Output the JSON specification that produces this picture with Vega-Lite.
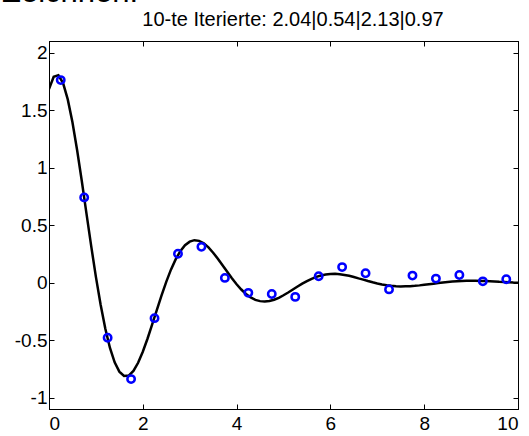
{
  "$schema": "https://vega.github.io/schema/vega-lite/v6.json",
  "width": 469,
  "height": 368,
  "autosize": {"type": "none"},
  "padding": {"left": 49, "top": 41, "right": 11, "bottom": 27},
  "background": "white",
  "config": {
    "font": "Liberation Sans",
    "view": {"stroke": "black", "strokeWidth": 1},
    "axis": {
      "grid": false,
      "domain": true,
      "domainColor": "black",
      "domainWidth": 1,
      "ticks": true,
      "tickColor": "black",
      "tickWidth": 1,
      "tickSize": -5,
      "labelFont": "Liberation Sans",
      "labelFontSize": 19,
      "labelColor": "black",
      "titleFont": "Liberation Sans",
      "titleColor": "black",
      "titleFontWeight": "normal"
    }
  },
  "title": {
    "text": "Zeichnen:",
    "anchor": "start",
    "frame": "group",
    "dx": -47,
    "dy": 24,
    "fontSize": 31,
    "fontWeight": "normal",
    "font": "Liberation Sans",
    "color": "black",
    "baseline": "alphabetic",
    "offset": 0
  },
  "datasets": {
    "curve": [
      {"x": 0.0, "y": 1.683}, {"x": 0.1, "y": 1.789}, {"x": 0.2, "y": 1.803}, {"x": 0.3, "y": 1.734}, {"x": 0.4, "y": 1.592},
      {"x": 0.5, "y": 1.393}, {"x": 0.6, "y": 1.150}, {"x": 0.7, "y": 0.880}, {"x": 0.8, "y": 0.597}, {"x": 0.9, "y": 0.316},
      {"x": 1.0, "y": 0.049}, {"x": 1.1, "y": -0.192}, {"x": 1.2, "y": -0.400}, {"x": 1.3, "y": -0.569}, {"x": 1.4, "y": -0.694},
      {"x": 1.5, "y": -0.775}, {"x": 1.6, "y": -0.812}, {"x": 1.7, "y": -0.809}, {"x": 1.8, "y": -0.769}, {"x": 1.9, "y": -0.698},
      {"x": 2.0, "y": -0.602}, {"x": 2.1, "y": -0.489}, {"x": 2.2, "y": -0.365}, {"x": 2.3, "y": -0.237}, {"x": 2.4, "y": -0.112},
      {"x": 2.5, "y": 0.006}, {"x": 2.6, "y": 0.112}, {"x": 2.7, "y": 0.201}, {"x": 2.8, "y": 0.273}, {"x": 2.9, "y": 0.324},
      {"x": 3.0, "y": 0.355}, {"x": 3.1, "y": 0.368}, {"x": 3.2, "y": 0.362}, {"x": 3.3, "y": 0.340}, {"x": 3.4, "y": 0.305},
      {"x": 3.5, "y": 0.259}, {"x": 3.6, "y": 0.207}, {"x": 3.7, "y": 0.150}, {"x": 3.8, "y": 0.093}, {"x": 3.9, "y": 0.037},
      {"x": 4.0, "y": -0.015}, {"x": 4.1, "y": -0.061}, {"x": 4.2, "y": -0.100}, {"x": 4.3, "y": -0.130}, {"x": 4.4, "y": -0.151},
      {"x": 4.5, "y": -0.162}, {"x": 4.6, "y": -0.166}, {"x": 4.7, "y": -0.161}, {"x": 4.8, "y": -0.150}, {"x": 4.9, "y": -0.133},
      {"x": 5.0, "y": -0.111}, {"x": 5.1, "y": -0.087}, {"x": 5.2, "y": -0.061}, {"x": 5.3, "y": -0.035}, {"x": 5.4, "y": -0.010},
      {"x": 5.5, "y": 0.012}, {"x": 5.6, "y": 0.032}, {"x": 5.7, "y": 0.049}, {"x": 5.8, "y": 0.061}, {"x": 5.9, "y": 0.070},
      {"x": 6.0, "y": 0.074}, {"x": 6.1, "y": 0.075}, {"x": 6.2, "y": 0.072}, {"x": 6.3, "y": 0.066}, {"x": 6.4, "y": 0.058},
      {"x": 6.5, "y": 0.048}, {"x": 6.6, "y": 0.036}, {"x": 6.7, "y": 0.025}, {"x": 6.8, "y": 0.013}, {"x": 6.9, "y": 0.002},
      {"x": 7.0, "y": -0.008}, {"x": 7.1, "y": -0.017}, {"x": 7.2, "y": -0.024}, {"x": 7.3, "y": -0.029}, {"x": 7.4, "y": -0.032},
      {"x": 7.5, "y": -0.034}, {"x": 7.6, "y": -0.033}, {"x": 7.7, "y": -0.032}, {"x": 7.8, "y": -0.029}, {"x": 7.9, "y": -0.025},
      {"x": 8.0, "y": -0.020}, {"x": 8.1, "y": -0.015}, {"x": 8.2, "y": -0.010}, {"x": 8.3, "y": -0.005}, {"x": 8.4, "y": 0.000},
      {"x": 8.5, "y": 0.005}, {"x": 8.6, "y": 0.008}, {"x": 8.7, "y": 0.011}, {"x": 8.8, "y": 0.013}, {"x": 8.9, "y": 0.015},
      {"x": 9.0, "y": 0.015}, {"x": 9.1, "y": 0.015}, {"x": 9.2, "y": 0.014}, {"x": 9.3, "y": 0.013}, {"x": 9.4, "y": 0.011},
      {"x": 9.5, "y": 0.009}, {"x": 9.6, "y": 0.006}, {"x": 9.7, "y": 0.004}, {"x": 9.8, "y": 0.002}, {"x": 9.9, "y": -0.001},
      {"x": 10.0, "y": -0.003}
    ],
    "samples": [
      {"x": 0.25, "y": 1.76}, {"x": 0.75, "y": 0.74}, {"x": 1.25, "y": -0.48}, {"x": 1.75, "y": -0.84},
      {"x": 2.25, "y": -0.31}, {"x": 2.75, "y": 0.25}, {"x": 3.25, "y": 0.31}, {"x": 3.75, "y": 0.04},
      {"x": 4.25, "y": -0.09}, {"x": 4.75, "y": -0.10}, {"x": 5.25, "y": -0.125}, {"x": 5.75, "y": 0.054},
      {"x": 6.25, "y": 0.134}, {"x": 6.75, "y": 0.08}, {"x": 7.25, "y": -0.06}, {"x": 7.75, "y": 0.06},
      {"x": 8.25, "y": 0.034}, {"x": 8.75, "y": 0.065}, {"x": 9.25, "y": 0.01}, {"x": 9.75, "y": 0.028}
    ]
  },
  "layer": [
    {
      "data": {"name": "curve"},
      "mark": {"type": "line", "color": "black", "strokeWidth": 2.5, "clip": true},
      "encoding": {
        "x": {
          "field": "x", "type": "quantitative",
          "scale": {"domain": [0, 10], "nice": false, "zero": false},
          "axis": {"orient": "bottom", "values": [0, 2, 4, 6, 8, 10], "title": null, "labelPadding": 10, "labelExpr": "'' + datum.value"}
        },
        "y": {
          "field": "y", "type": "quantitative",
          "scale": {"domain": [-1.1, 2.1], "nice": false, "zero": false},
          "axis": {"orient": "left", "values": [-1, -0.5, 0, 0.5, 1, 1.5, 2], "title": null, "labelPadding": 7, "labelExpr": "'' + datum.value"}
        }
      }
    },
    {
      "data": {"name": "samples"},
      "mark": {"type": "point", "shape": "circle", "filled": false, "color": "#0000FF", "strokeWidth": 2.5, "size": 55, "opacity": 1},
      "encoding": {
        "x": {
          "field": "x", "type": "quantitative",
          "scale": {"domain": [0, 10], "nice": false, "zero": false},
          "axis": {"orient": "top", "values": [0, 2, 4, 6, 8, 10], "labels": false,
            "title": "10-te Iterierte: 2.04|0.54|2.13|0.97", "titleFontSize": 20, "titleX": 243.5, "titleY": -16,
            "titleAlign": "center", "titleBaseline": "alphabetic", "titleAnchor": null}
        },
        "y": {
          "field": "y", "type": "quantitative",
          "scale": {"domain": [-1.1, 2.1], "nice": false, "zero": false},
          "axis": {"orient": "right", "values": [-1, -0.5, 0, 0.5, 1, 1.5, 2], "labels": false, "title": null}
        }
      }
    }
  ],
  "resolve": {"axis": {"x": "independent", "y": "independent"}}
}
